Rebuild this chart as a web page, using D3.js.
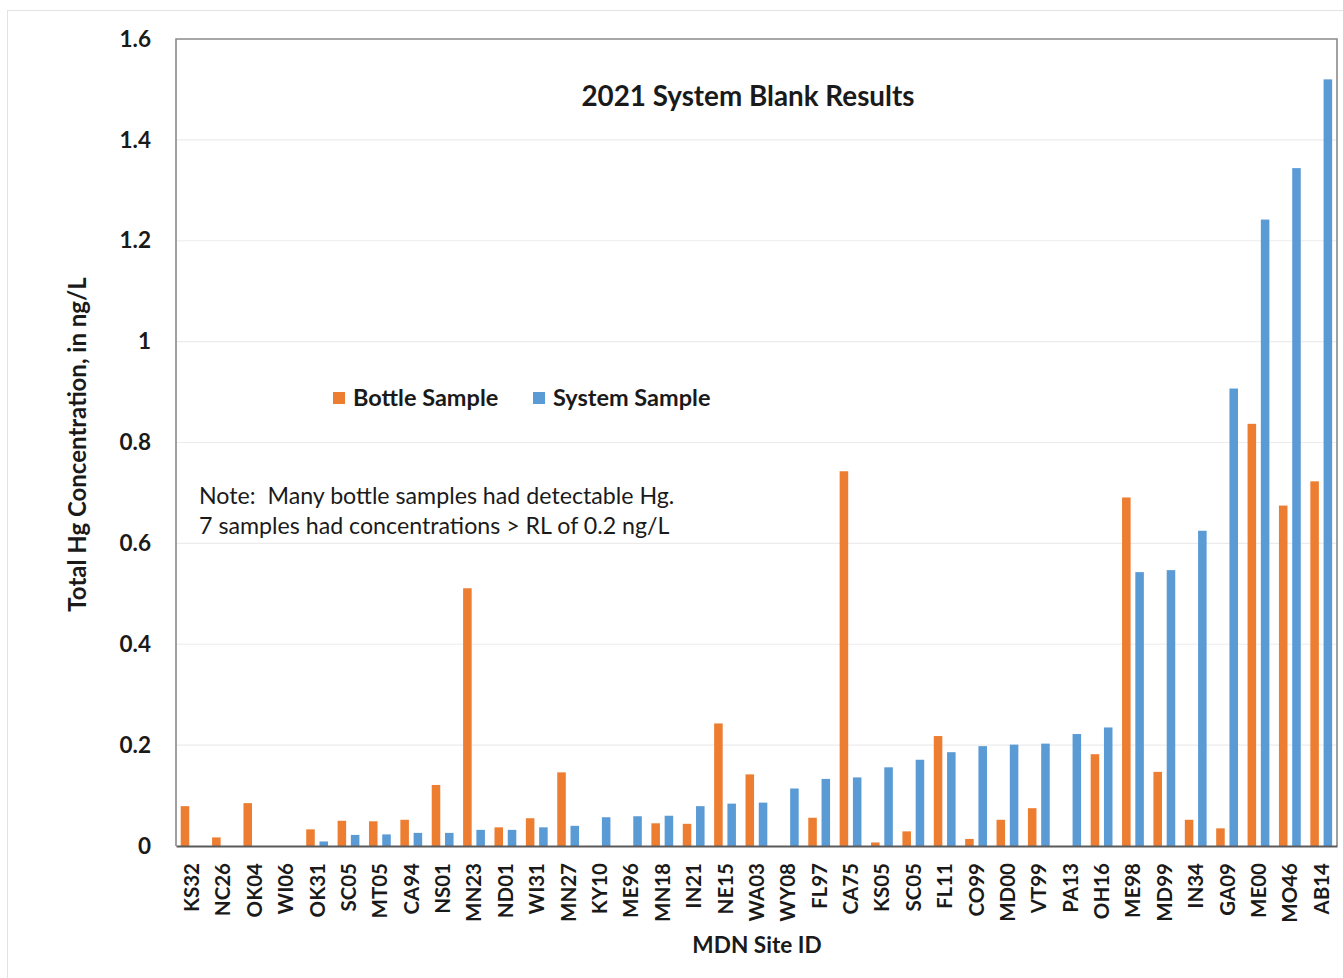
<!DOCTYPE html>
<html>
<head>
<meta charset="utf-8">
<script src="https://cdn.jsdelivr.net/npm/d3@7"></script>
<style>
  html, body { margin: 0; padding: 0; background: #fff; }
  svg { display: block; font-family: Lato, "Open Sans", sans-serif; }
</style>
</head>
<body>
<svg id="chart" width="1343" height="978"></svg>
<script>
// ---- data ----
const sites = ["KS32","NC26","OK04","WI06","OK31","SC05","MT05","CA94","NS01","MN23",
  "ND01","WI31","MN27","KY10","ME96","MN18","IN21","NE15","WA03","WY08",
  "FL97","CA75","KS05","SC05","FL11","CO99","MD00","VT99","PA13","OH16",
  "ME98","MD99","IN34","GA09","ME00","MO46","AB14"];
const bottleSample = [0.079,0.017,0.085,0,0.033,0.050,0.049,0.052,0.121,0.511,
  0.037,0.055,0.146,0,0,0.045,0.044,0.243,0.142,0,
  0.056,0.743,0.007,0.029,0.218,0.014,0.052,0.075,0,0.182,
  0.691,0.147,0.052,0.035,0.837,0.675,0.723];
const systemSample = [0,0,0,0,0.009,0.022,0.023,0.026,0.026,0.032,
  0.032,0.037,0.040,0.057,0.059,0.060,0.079,0.084,0.086,0.114,
  0.133,0.136,0.156,0.171,0.186,0.198,0.201,0.203,0.222,0.235,
  0.543,0.547,0.625,0.907,1.242,1.344,1.520];
const seriesNames = ["Bottle Sample","System Sample"];
const seriesColors = ["#ED7D31","#5B9BD5"];
const yTicks = [0,0.2,0.4,0.6,0.8,1,1.2,1.4,1.6];
const titleText = "2021 System Blank Results";
const yTitle = "Total Hg Concentration, in ng/L";
const xTitle = "MDN Site ID";
const noteLines = ["Note:  Many bottle samples had detectable Hg.",
                   "7 samples had concentrations > RL of 0.2 ng/L"];

// ---- layout ----
const svg = d3.select("#chart");
const L = 176, R = 1337, T = 39, B = 846;

// outer chart frame
svg.append("rect").attr("x", 7.5).attr("y", 10.5).attr("width", 1350).attr("height", 1000)
  .attr("fill", "none").attr("stroke", "#e3e3e3").attr("stroke-width", 1);

const idx = d3.range(sites.length);
const x0 = d3.scaleBand().domain(idx).range([L, R]).paddingInner(0).paddingOuter(0);
const bw = x0.bandwidth();
const x1 = d3.scaleBand().domain([0,1]).range([0.15*bw, 0.845*bw]).paddingInner(0.356);
const y = d3.scaleLinear().domain([0, 1.6]).range([B, T]);

// gridlines
svg.append("g").selectAll("line").data(yTicks.filter(d => d > 0 && d < 1.6)).join("line")
  .attr("x1", L).attr("x2", R).attr("y1", d => y(d)).attr("y2", d => y(d))
  .attr("stroke", "#ececec").attr("stroke-width", 1.2);

// bars
const data = [bottleSample, systemSample];
const g = svg.append("g");
data.forEach((vals, s) => {
  g.append("g").selectAll("rect").data(vals.map((v,i) => ({i, v}))).join("rect")
    .filter(d => d.v > 0)
    .attr("x", d => x0(d.i) + x1(s))
    .attr("width", x1.bandwidth())
    .attr("y", d => y(d.v))
    .attr("height", d => B - y(d.v))
    .attr("fill", seriesColors[s]);
});

// plot border (left, top, right)
svg.append("path")
  .attr("d", `M${L},${B} L${L},${T} L${R},${T} L${R},${B}`)
  .attr("fill", "none").attr("stroke", "#8a8a8a").attr("stroke-width", 1.6);

// y axis
const yAxis = d3.axisLeft(y).tickValues(yTicks).tickFormat(d3.format("~g")).tickSize(0).tickPadding(25);
const ya = svg.append("g").attr("transform", `translate(${L},0)`).call(yAxis);
ya.select(".domain").remove();
ya.selectAll("text").attr("font-family", "Lato, sans-serif").attr("font-size", 22.5)
  .attr("font-weight", "bold").attr("fill", "#1a1a1a");

// x axis
const xAxis = d3.axisBottom(x0).tickFormat(i => sites[i]).tickSize(0).tickPadding(0);
const xa = svg.append("g").attr("transform", `translate(0,${B})`).call(xAxis);
xa.select(".domain").attr("stroke", "#5a5a5a").attr("stroke-width", 2);
xa.selectAll("text")
  .attr("font-family", "Lato, sans-serif").attr("font-size", 20.5).attr("font-weight", "bold")
  .attr("fill", "#1a1a1a")
  .attr("text-anchor", "end")
  .attr("transform", "rotate(-90)")
  .attr("x", -17).attr("y", 0).attr("dy", "0.36em");

// titles
svg.append("text").attr("x", 748).attr("y", 106).attr("text-anchor", "middle")
  .attr("font-size", 27.8).attr("font-weight", "bold").attr("fill", "#1a1a1a").text(titleText);

svg.append("text").attr("transform", `translate(86,${(T+B)/2 + 2}) rotate(-90)`)
  .attr("text-anchor", "middle").attr("font-size", 24).attr("font-weight", "bold")
  .attr("fill", "#1a1a1a").text(yTitle);

svg.append("text").attr("x", 757).attr("y", 953).attr("text-anchor", "middle")
  .attr("font-size", 22.6).attr("font-weight", "bold").attr("fill", "#1a1a1a").text(xTitle);

// legend
const legX = [333, 533];
const lg = svg.append("g");
seriesNames.forEach((n, s) => {
  lg.append("rect").attr("x", legX[s]).attr("y", 392).attr("width", 12).attr("height", 12)
    .attr("fill", seriesColors[s]);
  lg.append("text").attr("x", legX[s] + 20).attr("y", 406).attr("font-size", 23.5)
    .attr("font-weight", "bold").attr("fill", "#1a1a1a").text(n);
});

// note
svg.append("g").selectAll("text").data(noteLines).join("text")
  .attr("x", 199).attr("y", (d,i) => 504 + i*30)
  .attr("font-size", 23.2).attr("fill", "#1a1a1a")
  .style("white-space", "pre").text(d => d);
</script>
</body>
</html>
